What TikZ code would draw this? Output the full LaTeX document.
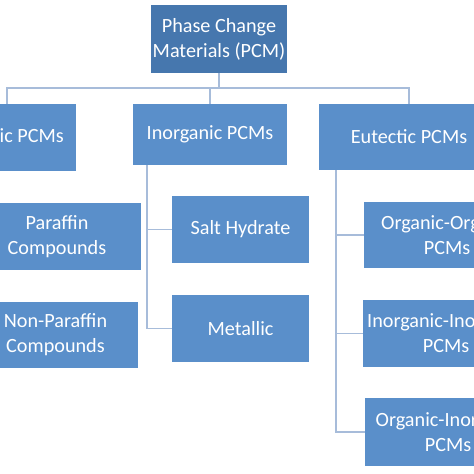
\documentclass[tikz,border=0pt]{standalone}
\usepackage{fontspec}
\setmainfont{Carlito}
\definecolor{topblue}{HTML}{4677AE}
\definecolor{boxblue}{HTML}{5A8FCA}
\definecolor{linkblue}{HTML}{A7BCDA}
\begin{document}
\begin{tikzpicture}[x=1pt,y=-1pt,
  box/.style={rectangle, fill=boxblue, text=white, inner sep=0pt, align=center,
    font=\fontsize{20.2}{25}\selectfont},
  topbox/.style={box, fill=topblue},
  link/.style={draw=linkblue, line width=1.8pt}]
\useasboundingbox (0,0) rectangle (474,474);
\clip (0,0) rectangle (474,474);
\node[topbox, minimum width=136pt, minimum height=68pt] (top) at (219,39) {Phase Change\\Materials (PCM)};
\node[box, minimum width=138pt, minimum height=67pt] (organic) at (7,137.5) {Organic PCMs};
\node[box, minimum width=154pt, minimum height=61pt] (inorganic) at (210,134.5) {Inorganic PCMs};
\node[box, minimum width=180pt, minimum height=66pt] (eutectic) at (409,137) {Eutectic PCMs};
\node[box, minimum width=168pt, minimum height=67pt] (paraffin) at (57,236.5) {Paraffin\\Compounds};
\node[box, minimum width=165pt, minimum height=66pt] (nonparaffin) at (55.5,335) {Non-Paraffin\\Compounds};
\node[box, minimum width=137pt, minimum height=67pt] (salt) at (240.5,229.5) {Salt Hydrate};
\node[box, minimum width=137pt, minimum height=67pt] (metallic) at (240.5,328.5) {Metallic};
\node[box, minimum width=166pt, minimum height=66pt] (orgorg) at (447,235) {Organic-Organic\\PCMs};
\node[box, minimum width=166pt, minimum height=67pt] (inoino) at (446,333.5) {Inorganic-Inorganic\\PCMs};
\node[box, minimum width=166pt, minimum height=68pt] (orgino) at (448,432) {Organic-Inorganic\\PCMs};
\coordinate (bus) at (219,88);
\path[link] (top.south) -- (bus);
\path[link] (organic.north) |- (bus);
\path[link] (inorganic.north) |- (bus);
\path[link] (eutectic.north) |- (bus);
\path[link] ([xshift=14pt]inorganic.south west) |- (salt.west);
\path[link] ([xshift=14pt]inorganic.south west) |- (metallic.west);
\path[link] ([xshift=17pt]eutectic.south west) |- (orgorg.west);
\path[link] ([xshift=17pt]eutectic.south west) |- (inoino.west);
\path[link] ([xshift=17pt]eutectic.south west) |- (orgino.west);
\end{tikzpicture}
\end{document}
